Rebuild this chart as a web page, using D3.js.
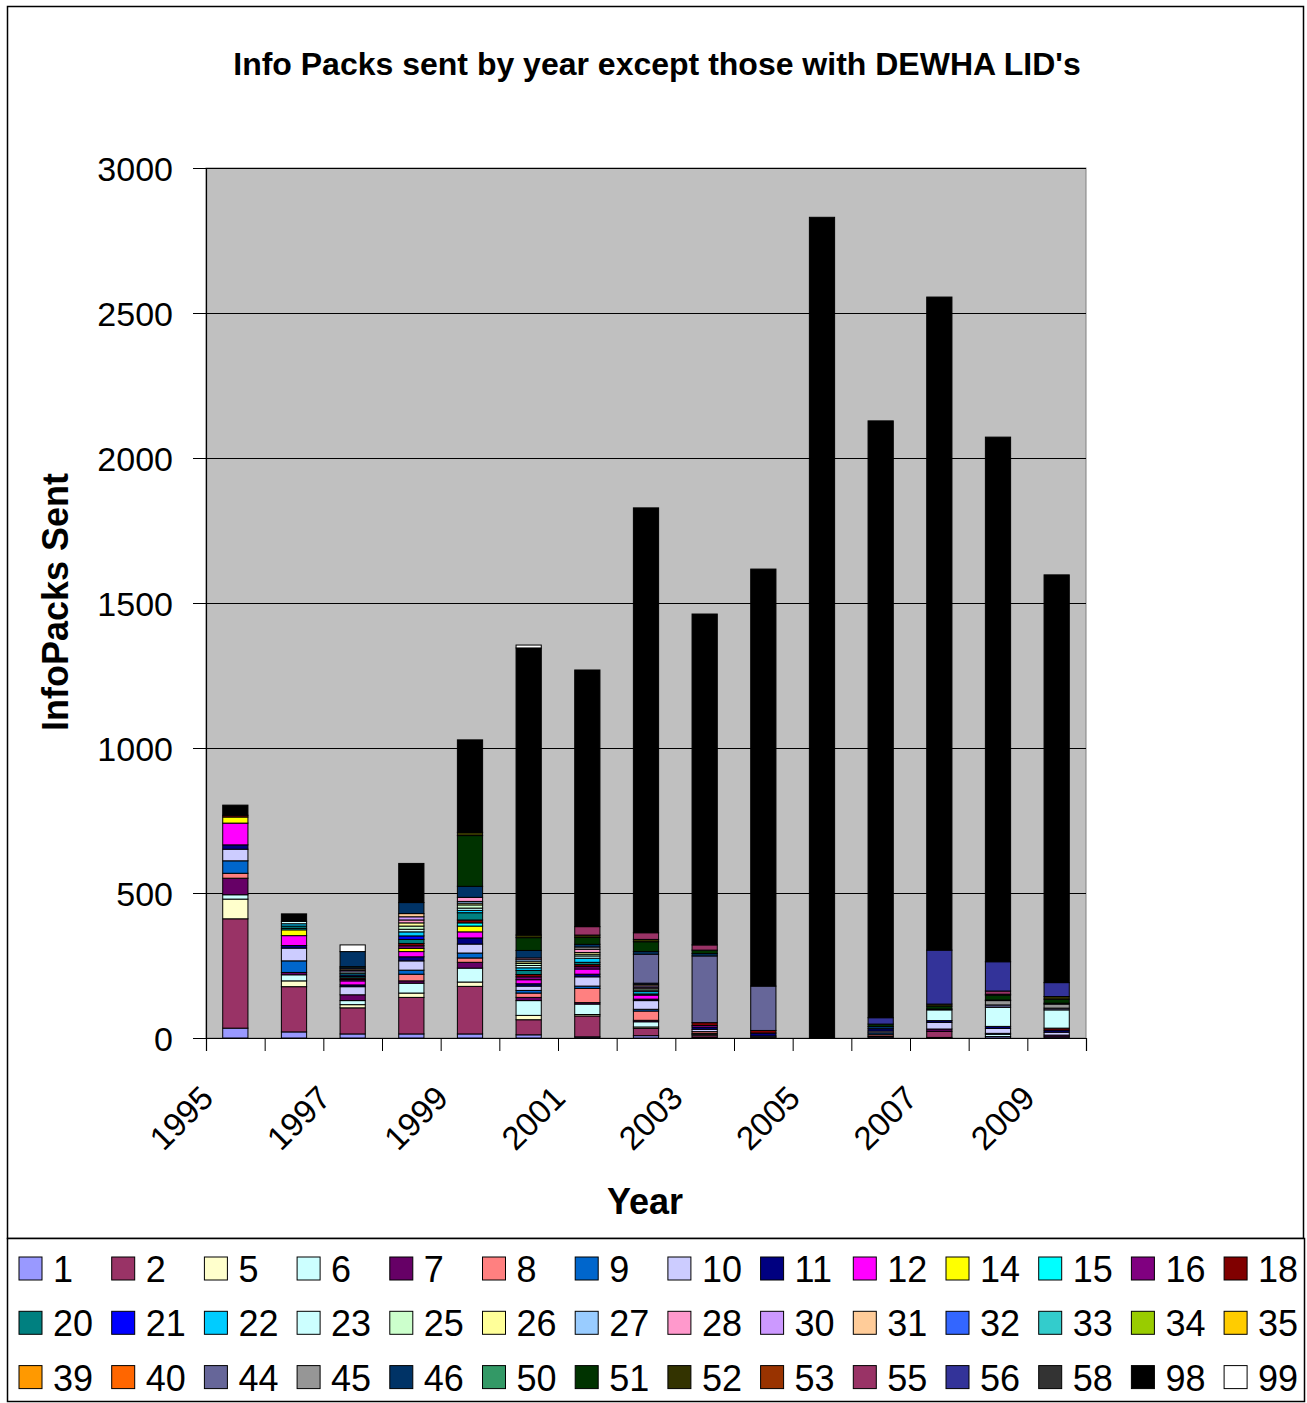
<!DOCTYPE html>
<html><head><meta charset="utf-8">
<script src="https://cdn.jsdelivr.net/npm/d3@7"></script>
<style>
html,body{margin:0;padding:0;background:#fff;}
text{font-family:"Liberation Sans",Arial,sans-serif;}
</style></head>
<body><svg id="chart" width="1307" height="1403"></svg>
<script>
const years = [1995,1996,1997,1998,1999,2000,2001,2002,2003,2004,2005,2006,2007,2008,2009];
const yTicks = [0,500,1000,1500,2000,2500,3000];
const xLabelYears = [1995,1997,1999,2001,2003,2005,2007,2009];
const seriesNames = ["1","2","5","6","7","8","9","10","11","12","14","15","16","18","20","21","22","23","25","26","27","28","30","31","32","33","34","35","39","40","44","45","46","50","51","52","53","55","56","58","98","99"];
const seriesColors = ["#9999FF","#993366","#FFFFCC","#CCFFFF","#660066","#FF8080","#0066CC","#CCCCFF","#000080","#FF00FF","#FFFF00","#00FFFF","#800080","#800000","#008080","#0000FF","#00CCFF","#CCFFFF","#CCFFCC","#FFFF99","#99CCFF","#FF99CC","#CC99FF","#FFCC99","#3366FF","#33CCCC","#99CC00","#FFCC00","#FF9900","#FF6600","#666699","#969696","#003366","#339966","#003300","#333300","#993300","#993366","#333399","#333333","#000000","#FFFFFF"];

// values per series, years 1995..2009
const v1  = [34,21,14,14,14,11,4,8,3,3,0,4,2,5,4];
const v2  = [377,156,90,126,164,52,72,25,7,0,0,0,21,0,0];
const v5  = [68,20,11,15,15,15,5,5,3,0,0,0,0,0,0];
const v6  = [15,21,14,34,48,51,36,18,3,0,0,3,0,8,0];
const v7  = [57,8,20,8,20,11,5,5,0,0,0,0,8,0,6];
const v8  = [17,0,0,23,15,15,49,32,6,0,0,6,0,0,0];
const v9  = [43,40,0,14,17,9,8,6,0,0,0,5,0,3,0];
const v10 = [40,44,28,32,31,15,32,30,8,4,0,6,23,17,10];
const v11 = [15,9,6,14,21,8,9,5,8,10,0,8,6,7,7];
const v12 = [75,34,14,18,21,14,18,14,5,0,0,0,0,0,0];
const v14 = [21,20,0,11,20,0,0,0,0,0,0,0,0,0,0];
const v15 = [0,5,0,0,11,0,0,0,0,0,0,0,0,0,0];
const v16 = [0,0,5,9,0,10,8,0,0,0,0,0,0,0,0];
const v18 = [6,0,5,8,10,8,7,0,10,9,0,0,0,0,7];
const v20 = [0,8,5,14,25,14,8,4,0,0,0,0,0,0,0];
const v21 = [0,0,5,12,0,0,0,0,0,0,0,0,0,0,0];
const v22 = [0,8,5,14,8,9,14,8,0,0,0,0,0,0,0];
const v23 = [0,8,6,9,8,8,8,5,0,0,0,0,37,66,63];
const v25 = [0,0,0,11,11,7,6,5,0,0,0,0,0,0,0];
const v26 = [0,0,0,11,6,6,6,0,0,0,0,0,0,0,0];
const v27 = [0,0,0,0,6,7,0,0,0,0,0,0,0,0,0];
const v28 = [0,0,0,10,14,6,11,5,0,0,0,0,0,0,0];
const v30 = [0,0,5,11,0,0,0,5,0,0,0,0,0,0,0];
const v31 = [0,0,5,11,0,0,0,5,0,0,0,0,0,0,0];
const v32 = [0,0,4,0,0,0,0,4,0,0,0,0,0,0,0];
const v33 = [0,0,4,0,0,0,0,0,0,0,0,0,0,0,0];
const v34 = [0,0,0,0,0,0,0,0,0,0,0,0,0,0,0];
const v35 = [0,0,0,0,0,0,0,0,0,0,0,0,0,0,0];
const v39 = [0,0,0,0,0,0,0,0,0,0,0,0,0,0,0];
const v40 = [0,0,0,0,0,0,0,0,0,0,0,0,0,0,0];
const v44 = [0,0,0,0,0,0,0,100,230,153,0,0,0,8,6];
const v45 = [0,0,0,0,0,0,8,0,0,0,0,0,0,15,14];
const v46 = [0,0,52,38,38,26,9,9,8,0,0,8,3,2,3];
const v50 = [0,0,0,0,0,0,0,0,0,0,0,0,0,0,0];
const v51 = [0,0,0,0,175,44,24,34,12,0,0,8,10,17,14];
const v52 = [0,0,0,0,11,9,8,8,0,0,0,0,7,3,9];
const v53 = [0,0,0,0,0,0,0,0,0,0,0,0,0,0,0];
const v55 = [0,0,0,0,0,0,29,23,18,0,0,0,0,11,0];
const v56 = [0,0,0,0,0,0,0,0,0,0,0,22,186,101,48];
const v58 = [0,0,0,0,0,0,0,0,0,0,0,0,0,0,0];
const v98 = [35,26,0,135,319,990,885,1465,1141,1438,2830,2058,2252,1809,1406];
const v99 = [0,0,23,0,0,10,0,0,0,0,0,0,0,0,0];
const seriesValues = [v1,v2,v5,v6,v7,v8,v9,v10,v11,v12,v14,v15,v16,v18,v20,v21,v22,v23,v25,v26,v27,v28,v30,v31,v32,v33,v34,v35,v39,v40,v44,v45,v46,v50,v51,v52,v53,v55,v56,v58,v98,v99];

const svg = d3.select("#chart");
const font = '"Liberation Sans",Arial,sans-serif';
const P = {l:206, r:1086, t:168, b:1038};

// outer chart border
svg.append("rect").attr("x",7.5).attr("y",6.5).attr("width",1296).attr("height",1232)
  .attr("fill","#fff").attr("stroke","#000").attr("stroke-width",1.5);

const rows = years.map((yr,i)=>{ const r={year:yr}; seriesNames.forEach((s,k)=>r[s]=seriesValues[k][i]); return r; });
const stack = d3.stack().keys(seriesNames)(rows);

const x = d3.scaleBand().domain(years).range([P.l,P.r]).padding(0);
const xi = d3.scaleLinear().domain([0,years.length]).range([P.l,P.r]);
const y = d3.scaleLinear().domain([0,3000]).range([P.b,P.t]);
const barW = x.bandwidth()*0.43;

// plot area
svg.append("rect").attr("x",P.l).attr("y",P.t).attr("width",P.r-P.l).attr("height",P.b-P.t)
  .attr("fill","#C0C0C0").attr("stroke","#808080").attr("stroke-width",1);

// gridlines
svg.append("g").selectAll("line").data(yTicks.filter(d=>d>0)).join("line")
  .attr("x1",P.l).attr("x2",P.r).attr("y1",d=>Math.round(y(d))+0.5).attr("y2",d=>Math.round(y(d))+0.5)
  .attr("stroke","#000").attr("stroke-width",1);

// bars
const colorOf = d3.scaleOrdinal().domain(seriesNames).range(seriesColors);
svg.append("g").selectAll("g").data(stack).join("g")
  .attr("fill",d=>colorOf(d.key))
  .selectAll("rect").data(d=>d.filter(p=>p[1]-p[0]>0)).join("rect")
  .attr("x",d=>x(d.data.year)+(x.bandwidth()-barW)/2)
  .attr("width",barW)
  .attr("y",d=>y(d[1]))
  .attr("height",d=>y(d[0])-y(d[1]))
  .attr("stroke","#000").attr("stroke-width",1);

// y axis
const yAxis = svg.append("g").attr("transform",`translate(${P.l},0)`)
  .call(d3.axisLeft(y).tickValues(yTicks).tickSize(13).tickPadding(20).tickFormat(d3.format("d")));
yAxis.select(".domain").attr("stroke","#000").attr("stroke-width",1.2);
yAxis.selectAll(".tick line").attr("stroke","#000");
yAxis.selectAll("text").attr("font-family",font).attr("font-size",34).attr("fill","#000").attr("dy","0.36em");

// x axis (ticks at category boundaries)
const xAxis = svg.append("g").attr("transform",`translate(0,${P.b})`)
  .call(d3.axisBottom(xi).tickValues(d3.range(0,years.length+1)).tickSize(13).tickFormat(""));
xAxis.select(".domain").attr("stroke","#000").attr("stroke-width",1.2);
xAxis.selectAll(".tick line").attr("stroke","#000");

// x labels
svg.append("g").selectAll("text").data(xLabelYears).join("text")
  .attr("transform",d=>`translate(${x(d)+x.bandwidth()/2-20},1100) rotate(-45)`)
  .attr("text-anchor","end").attr("font-family",font).attr("font-size",33).attr("fill","#000")
  .text(d=>d);

// titles
svg.append("text").attr("x",657).attr("y",75).attr("text-anchor","middle")
  .attr("font-family",font).attr("font-weight","bold").attr("font-size",32)
  .text("Info Packs sent by year except those with DEWHA LID's");
svg.append("text").attr("x",645).attr("y",1214).attr("text-anchor","middle")
  .attr("font-family",font).attr("font-weight","bold").attr("font-size",36).text("Year");
svg.append("text").attr("transform","translate(68,602) rotate(-90)").attr("text-anchor","middle")
  .attr("font-family",font).attr("font-weight","bold").attr("font-size",36).text("InfoPacks Sent");

// legend
const lg = svg.append("g");
lg.append("rect").attr("x",7.5).attr("y",1238.5).attr("width",1297).attr("height",163)
  .attr("fill","#fff").attr("stroke","#000").attr("stroke-width",1.5);
const items = lg.selectAll("g.item").data(seriesNames).join("g").attr("class","item")
  .attr("transform",(d,i)=>`translate(${19+(i%14)*92.7},${1257+Math.floor(i/14)*54.3})`);
items.append("rect").attr("width",23).attr("height",23).attr("fill",d=>colorOf(d))
  .attr("stroke","#000").attr("stroke-width",1);
items.append("text").attr("x",34).attr("y",25).attr("font-family",font).attr("font-size",36)
  .attr("fill","#000").text(d=>d);
</script></body></html>
